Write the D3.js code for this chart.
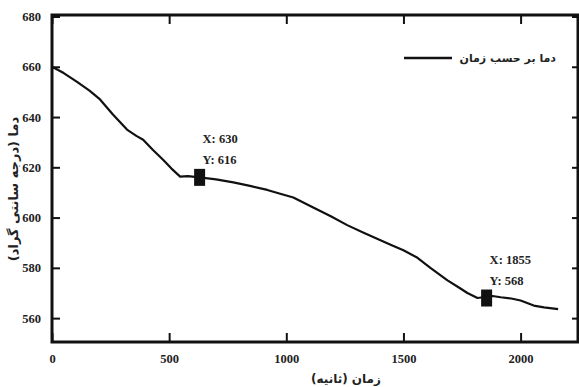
<!DOCTYPE html>
<html>
<head>
<meta charset="utf-8">
<script src="https://cdn.jsdelivr.net/npm/d3@7"></script>
<style>
  body { margin: 0; background: #fff; }
  .tick text { font-family: "Liberation Serif", "Times New Roman", serif; font-size: 12.5px; font-weight: bold; fill: #222; }
  .fa { font-family: "DejaVu Sans", "Noto Sans", sans-serif; font-weight: bold; fill: #222; }
  .note { font-family: "Liberation Serif", "Times New Roman", serif; font-size: 12.5px; font-weight: bold; fill: #222; }
</style>
</head>
<body>
<svg id="chart" width="579" height="387"></svg>
<script>
// time (s) and temperature
const times = [0, 50, 107, 160, 205, 260, 320, 360, 389, 430, 474, 510, 547, 580, 630, 700, 774, 850, 919, 974, 1030, 1115, 1190, 1260, 1330, 1402, 1450, 1500, 1560, 1615, 1688, 1740, 1773, 1816, 1855, 1880, 1915, 1960, 2000, 2056, 2100, 2160];
const temps = [660, 657.5, 654, 650.5, 647, 641, 635, 632.5, 631, 627, 623, 619.5, 616.3, 616.5, 616, 615.2, 614, 612.5, 611, 609.5, 608, 604, 600.5, 597, 594, 591, 589, 587, 584, 580, 575, 572, 570, 568, 568.5, 568.8, 568.3, 567.8, 567, 565, 564.3, 563.6];
const xTicks = [0, 500, 1000, 1500, 2000];
const yTicks = [560, 580, 600, 620, 640, 660, 680];
const markers = [{ t: 630, v: 616 }, { t: 1855, v: 568 }];
const legendLabel = "دما بر حسب زمان";
const xTitle = "زمان (ثانیه)";
const yTitle = "دما (درجه سانتی گراد)";

const svg = d3.select("#chart");
const m = { left: 52, top: 15, right: 1, bottom: 45 };
const W = 579 - m.left - m.right;
const H = 387 - m.top - m.bottom;

const x = d3.scaleLinear().domain([0, 2245]).range([0, W]);
const y = d3.scaleLinear().domain([550.5, 680.6]).range([H, 0]);

const g = svg.append("g").attr("transform", `translate(${m.left},${m.top})`);

// inward ticks on all four sides
g.append("g").attr("transform", `translate(0,${H})`)
  .call(d3.axisBottom(x).tickValues(xTicks).tickFormat(d3.format("d"))
    .tickSizeInner(-9).tickSizeOuter(0).tickPadding(12))
  .call((a) => a.select(".domain").remove());
g.append("g")
  .call(d3.axisTop(x).tickValues(xTicks).tickSizeInner(-9).tickSizeOuter(0).tickFormat(""))
  .call((a) => a.select(".domain").remove());
g.append("g")
  .call(d3.axisLeft(y).tickValues(yTicks).tickSizeInner(-8).tickSizeOuter(0).tickPadding(11))
  .call((a) => a.select(".domain").remove());
g.append("g").attr("transform", `translate(${W},0)`)
  .call(d3.axisRight(y).tickValues(yTicks).tickSizeInner(-6).tickSizeOuter(0).tickFormat(""))
  .call((a) => a.select(".domain").remove());
g.selectAll(".tick line").attr("stroke", "#111").attr("stroke-width", 2);

// frame
g.append("rect").attr("width", W).attr("height", H)
  .attr("fill", "none").attr("stroke", "#111").attr("stroke-width", 3);

// curve
const line = d3.line().x((d, i) => x(times[i])).y((d) => y(d));
g.append("path").attr("d", line(temps))
  .attr("fill", "none").attr("stroke", "#111").attr("stroke-width", 2.2)
  .attr("stroke-linejoin", "round");

// data tip markers
markers.forEach((p) => {
  g.append("rect")
    .attr("x", x(p.t) - 5.5).attr("y", y(p.v) - 8.5)
    .attr("width", 11).attr("height", 17).attr("fill", "#111");
  g.append("text").attr("class", "note")
    .attr("x", x(p.t) + 3).attr("y", y(p.v) - 34).text("X: " + p.t);
  g.append("text").attr("class", "note")
    .attr("x", x(p.t) + 3).attr("y", y(p.v) - 13).text("Y: " + p.v);
});

// legend
g.append("line").attr("x1", 352).attr("x2", 400).attr("y1", 43).attr("y2", 43)
  .attr("stroke", "#111").attr("stroke-width", 2.5);
g.append("text").attr("class", "fa").attr("x", 504).attr("y", 47)
  .attr("text-anchor", "end").style("font-size", "11px")
  .text(legendLabel);

// axis titles
svg.append("text").attr("class", "fa").attr("x", 346).attr("y", 383)
  .attr("text-anchor", "middle").style("font-size", "12px").text(xTitle);
svg.append("text").attr("class", "fa")
  .attr("transform", `translate(18,${m.top + 174}) rotate(-90)`)
  .attr("text-anchor", "middle").style("font-size", "13px").text(yTitle);
</script>
</body>
</html>
